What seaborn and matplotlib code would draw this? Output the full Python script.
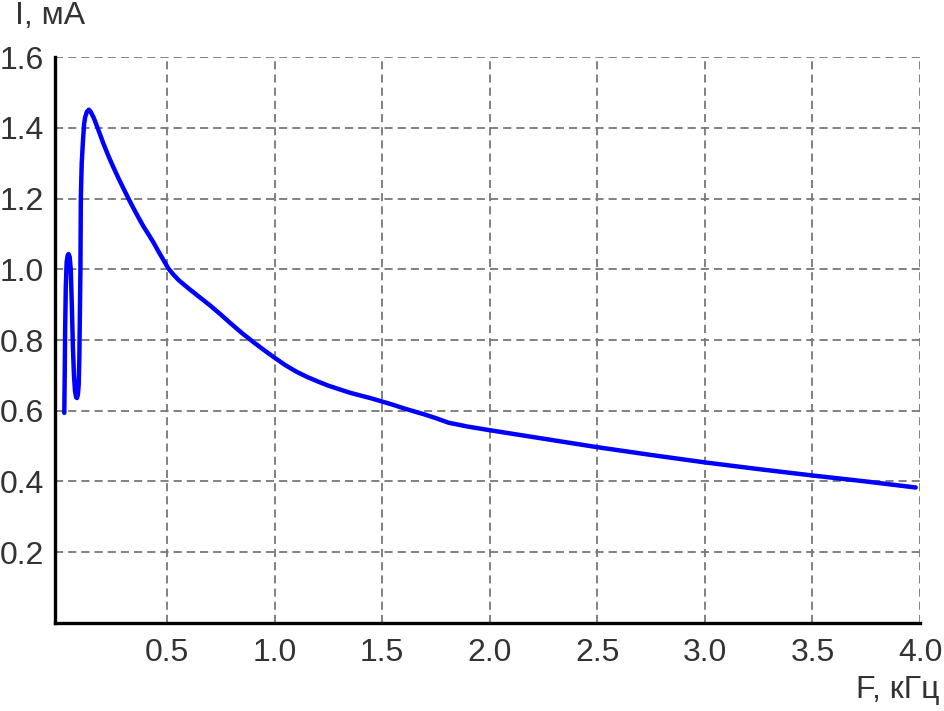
import matplotlib
matplotlib.use("Agg")
import matplotlib.pyplot as plt
import seaborn as sns

# values
freq_khz = [0.023, 0.025, 0.027, 0.030, 0.034, 0.039, 0.043, 0.048, 0.053, 0.058,
            0.063, 0.068, 0.073, 0.078, 0.082, 0.086, 0.090, 0.093, 0.095, 0.098,
            0.100, 0.104, 0.110, 0.115, 0.120, 0.128, 0.137, 0.145, 0.160, 0.182,
            0.205, 0.229, 0.25, 0.275, 0.30, 0.322, 0.345, 0.368, 0.39, 0.415,
            0.44, 0.461, 0.485, 0.507, 0.53, 0.555, 0.60, 0.65, 0.70, 0.75,
            0.80, 0.85, 0.90, 0.95, 1.00, 1.05, 1.10, 1.15, 1.20, 1.25,
            1.30, 1.35, 1.40, 1.45, 1.50, 1.55, 1.60, 1.65, 1.70, 1.75,
            1.81, 1.90, 2.00, 2.25, 2.50, 2.75, 3.00, 3.25, 3.50, 3.75,
            3.98]
current_ma = [0.594, 0.70, 0.83, 0.95, 1.02, 1.04, 1.043, 1.035, 1.00, 0.90,
              0.78, 0.70, 0.655, 0.638, 0.636, 0.645, 0.673, 0.75, 0.85, 1.00,
              1.205, 1.30, 1.365, 1.41, 1.430, 1.445, 1.451, 1.446, 1.428, 1.393,
              1.355, 1.319, 1.290, 1.257, 1.226, 1.199, 1.172, 1.146, 1.122, 1.098,
              1.073, 1.050, 1.025, 1.002, 0.985, 0.969, 0.946, 0.922, 0.898, 0.872,
              0.845, 0.819, 0.795, 0.772, 0.750, 0.729, 0.711, 0.696, 0.683, 0.671,
              0.661, 0.651, 0.643, 0.635, 0.626, 0.617, 0.607, 0.598, 0.589, 0.579,
              0.566, 0.555, 0.545, 0.521, 0.497, 0.475, 0.454, 0.435, 0.417, 0.400,
              0.383]

x_ticks = [0.5, 1.0, 1.5, 2.0, 2.5, 3.0, 3.5, 4.0]
y_ticks = [0.2, 0.4, 0.6, 0.8, 1.0, 1.2, 1.4, 1.6]

sns.set_style("white")
plt.rcParams["font.family"] = ["Liberation Sans", "DejaVu Sans"]
text_color = "#333333"

fig = plt.figure(figsize=(9.44, 7.11), dpi=100)
ax = fig.add_axes([0.0583, 0.1238, 0.9163, 0.796])

sns.lineplot(x=freq_khz, y=current_ma, sort=False, color="#0000ff",
             linewidth=3.2, ax=ax)

ax.set_xlim(-0.02, 4.0)
ax.set_ylim(0, 1.6)
ax.set_xticks(x_ticks)
ax.set_yticks(y_ticks)
ax.set_xticklabels([f"{v:.1f}" for v in x_ticks])
ax.set_yticklabels([f"{v:.1f}" for v in y_ticks])
ax.tick_params(axis="both", length=0, labelsize=23, colors=text_color)
ax.tick_params(axis="x", pad=11)
ax.tick_params(axis="y", pad=8)

ax.grid(True, color="#777777", linestyle=(0, (4.5, 2.8)), linewidth=1.3)
for side in ["top", "right"]:
    ax.spines[side].set_visible(False)
for side in ["left", "bottom"]:
    ax.spines[side].set_color("black")
    ax.spines[side].set_linewidth(2.4)
ax.set_xlabel("")
ax.set_ylabel("")

fig.text(0.016, 0.978, "I, мА", fontsize=23, color=text_color, ha="left", va="center")
fig.text(0.995, 0.03, "F, кГц", fontsize=23, color=text_color, ha="right", va="center")

fig.savefig("out.png", dpi=100)
